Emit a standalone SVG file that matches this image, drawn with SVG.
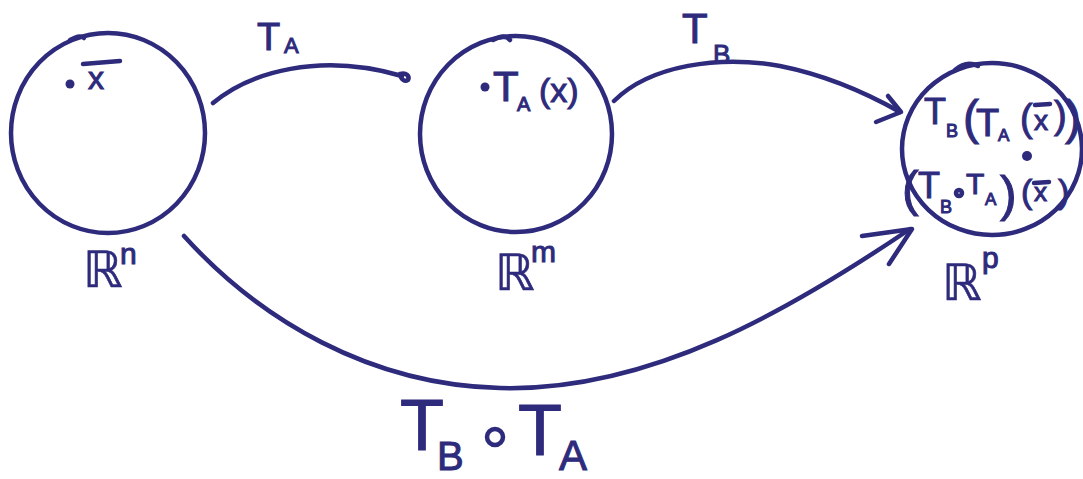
<svg xmlns="http://www.w3.org/2000/svg" width="1083" height="479" viewBox="0 0 1083 479">
<style>
.s{fill:none;stroke:#2e2a7c;stroke-width:4.5;stroke-linecap:round;stroke-linejoin:round}
.t{fill:#2e2a7c;stroke:#2e2a7c;stroke-width:1;font-family:"Liberation Sans","DejaVu Sans",sans-serif}
.r{fill:#2e2a7c;stroke:#2e2a7c;stroke-width:0.6;font-family:"DejaVu Sans","Liberation Sans",sans-serif}
.d{fill:#2e2a7c}
</style>
<rect width="1083" height="479" fill="#ffffff"/>
<g id="connectors">
  <g id="edge-TA">
    <path class="s" d="M213,103 C250,72 320,52 402,76"/>
    <path class="s" d="M400,74 C406,72 410,76 408,80 C405,82 401,80 400,74"/>
    <text class="t" x="257" y="50" font-size="38">T</text>
    <text class="t" x="284" y="53" font-size="22">A</text>
  </g>
  <g id="edge-TB">
    <path class="s" d="M614,101 C650,65 720,55 780,66 C830,76 870,95 900,112"/>
    <path class="s" d="M888,96 L901,112 L876,122"/>
    <text class="t" x="682" y="43" font-size="42">T</text>
    <text class="t" x="713" y="63" font-size="26">B</text>
  </g>
  <g id="edge-TBoTA">
    <path class="s" d="M184,236 C260,320 370,385 500,388 C650,392 790,310 910,229"/>
    <path class="s" d="M862,236 L912,229 L889,264"/>
    <text class="t" x="400" y="450" font-size="72">T</text>
    <text class="t" x="437" y="470" font-size="40">B</text>
    <circle class="s" cx="495" cy="437" r="8"/>
    <text class="t" x="518" y="455" font-size="72">T</text>
    <text class="t" x="559" y="470" font-size="42">A</text>
  </g>
</g>
<g id="node-Rn">
  <ellipse class="s" cx="108" cy="133" rx="97" ry="100"/>
  <path class="s" d="M70,40 C76,37 80,35 84,38"/>
  <circle class="d" cx="70" cy="84" r="4.5"/>
  <text class="t" x="88" y="89" font-size="32">x</text>
  <path class="s" d="M83,64 L120,61"/>
  <text class="r" x="83" y="287" font-size="50">ℝ</text>
  <text class="t" x="120" y="264" font-size="30">n</text>
</g>
<g id="node-Rm">
  <ellipse class="s" cx="516" cy="134" rx="96" ry="98"/>
  <path class="s" d="M493,40 C500,36 506,35 510,40"/>
  <circle class="d" cx="485" cy="87" r="4.5"/>
  <text class="t" x="493" y="101" font-size="42">T</text>
  <text class="t" x="517" y="111" font-size="20">A</text>
  <text class="t" x="539" y="102" font-size="34">(x)</text>
  <text class="r" x="495" y="290" font-size="50">ℝ</text>
  <text class="t" x="531" y="262" font-size="30">m</text>
</g>
<g id="node-Rp">
  <ellipse class="s" cx="992" cy="149" rx="90" ry="86"/>
  <path class="s" d="M955,70 C962,64 970,62 978,66"/>
  <text class="t" x="924" y="124" font-size="36">T</text>
  <text class="t" x="946" y="137" font-size="18">B</text>
  <text class="t" x="963" y="134" font-size="48">(</text>
  <text class="t" x="976" y="136" font-size="38">T</text>
  <text class="t" x="998" y="141" font-size="17">A</text>
  <text class="t" x="1020" y="131" font-size="38">(</text>
  <text class="t" x="1034" y="130" font-size="28">x</text>
  <path class="s" d="M1035,105 L1050,104"/>
  <text class="t" x="1054" y="128" font-size="38">)</text>
  <text class="t" x="1065" y="134" font-size="48">)</text>
  <circle class="d" cx="1027" cy="156" r="5"/>
  <text class="t" x="902" y="206" font-size="50">(</text>
  <text class="t" x="918" y="198" font-size="36">T</text>
  <text class="t" x="940" y="213" font-size="18">B</text>
  <circle class="s" cx="959" cy="193" r="3" stroke-width="3"/>
  <text class="t" x="966" y="194" font-size="30">T</text>
  <text class="t" x="985" y="205" font-size="17">A</text>
  <text class="t" x="1000" y="211" font-size="50">)</text>
  <text class="t" x="1021" y="203" font-size="34">(</text>
  <text class="t" x="1034" y="201" font-size="26">x</text>
  <path class="s" d="M1034,183 L1049,182" stroke-width="3.5"/>
  <text class="t" x="1058" y="203" font-size="34">)</text>
  <text class="r" x="942" y="300" font-size="50">ℝ</text>
  <text class="t" x="982" y="268" font-size="30">p</text>
</g>
</svg>
